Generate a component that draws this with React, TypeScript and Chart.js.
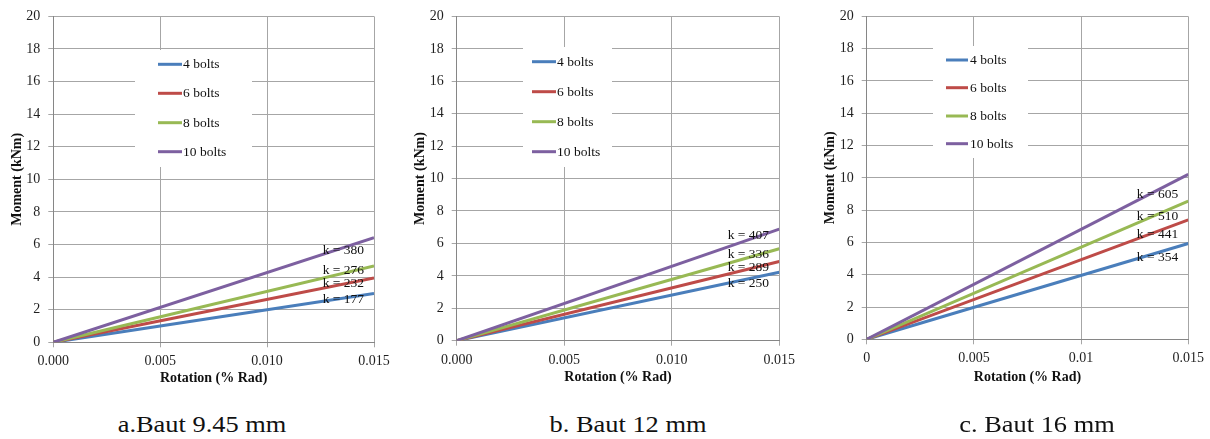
import React, { useEffect, useRef } from "react";
import { Chart, registerables } from "chart.js";

Chart.register(...registerables);

// ---------- data ----------
const seriesLabels = ["4 bolts", "6 bolts", "8 bolts", "10 bolts"];
const seriesColors = ["#4A7EBB", "#BE4B48", "#98B954", "#7D60A0"];
const rotation = [0, 0.015];

// moment (kNm) at rotation 0 and 0.015 for each series
const momentA = [[0, 3.0], [0, 3.95], [0, 4.68], [0, 6.42]];
const momentB = [[0, 4.22], [0, 4.88], [0, 5.67], [0, 6.88]];
const momentC = [[0, 5.93], [0, 7.4], [0, 8.56], [0, 10.21]];

// stiffness labels and where they sit (data units)
const kValuesA = [177, 232, 276, 380];
const kValuesB = [250, 289, 336, 407];
const kValuesC = [354, 441, 510, 605];
const kLabelYA = [2.63, 3.6, 4.42, 5.64];
const kLabelYB = [3.5, 4.49, 5.29, 6.47];
const kLabelYC = [5.05, 6.48, 7.6, 8.97];
const kLabelX = 0.0126;

const xTickValues = [0, 0.005, 0.01, 0.015];
const xTickLabelsAB = ["0.000", "0.005", "0.010", "0.015"];
const xTickLabelsC = ["0", "0.005", "0.01", "0.015"];
const yTickValues = [0, 2, 4, 6, 8, 10, 12, 14, 16, 18, 20];

const captions = ["a.Baut 9.45 mm", "b. Baut 12 mm", "c. Baut 16 mm"];

// ---------- layout ----------
const H = 395;
const FONT = "'Liberation Serif', 'Times New Roman', serif";

const panels = [
  {
    left: 0, width: 400, top: 15, right: 26, yWidth: 53.3, bottom: 342.3,
    yTitlePad: 9, xTitlePad: 8, captionX: 202,
    moment: momentA, kValues: kValuesA, kY: kLabelYA, xLabels: xTickLabelsAB, caption: captions[0],
    legend: { x: 135, y: 50, w: 117, h: 117, l1: 158, l2: 182, tx: 183, rows: [64.3, 93.3, 122.7, 151.7] },
  },
  {
    left: 400, width: 410, top: 14, right: 30.7, yWidth: 56.7, bottom: 340.7,
    yTitlePad: 12, xTitlePad: 9, captionX: 628,
    moment: momentB, kValues: kValuesB, kY: kLabelYB, xLabels: xTickLabelsAB, caption: captions[1],
    legend: { x: 123, y: 47, w: 89, h: 120, l1: 132, l2: 156, tx: 157, rows: [61.7, 91.7, 121.7, 151.7] },
  },
  {
    left: 800, width: 410, top: 12.3, right: 21.7, yWidth: 66.7, bottom: 339.3,
    yTitlePad: 22, xTitlePad: 9.5, captionX: 1037,
    moment: momentC, kValues: kValuesC, kY: kLabelYC, xLabels: xTickLabelsC, caption: captions[2],
    legend: { x: 133, y: 46, w: 95, h: 112, l1: 146, l2: 168, tx: 170, rows: [60, 87.7, 116, 143.7] },
  },
];

function makeLegendPlugin(p: any) {
  return {
    id: "boxLegend",
    afterDraw(chart: any) {
      const ctx = chart.ctx;
      const L = p.legend;
      ctx.save();
      ctx.fillStyle = "#ffffff";
      ctx.fillRect(L.x, L.y, L.w, L.h);
      ctx.font = `13.5px ${FONT}`;
      ctx.textBaseline = "middle";
      ctx.textAlign = "left";
      seriesLabels.forEach((lab, i) => {
        const y = L.rows[i];
        ctx.strokeStyle = seriesColors[i];
        ctx.lineWidth = 3;
        ctx.beginPath();
        ctx.moveTo(L.l1, y);
        ctx.lineTo(L.l2, y);
        ctx.stroke();
        ctx.fillStyle = "#111111";
        ctx.fillText(lab, L.tx, y + 0.5);
      });
      ctx.restore();
    },
  };
}

function makeKPlugin(p: any) {
  return {
    id: "kLabels",
    afterDatasetsDraw(chart: any) {
      const ctx = chart.ctx;
      const xs = chart.scales.x;
      const ys = chart.scales.y;
      ctx.save();
      ctx.font = `13.5px ${FONT}`;
      ctx.textBaseline = "middle";
      ctx.textAlign = "left";
      ctx.fillStyle = "#111111";
      p.kValues.forEach((k: number, i: number) => {
        ctx.fillText(`k = ${k}`, xs.getPixelForValue(kLabelX), ys.getPixelForValue(p.kY[i]));
      });
      ctx.restore();
    },
  };
}

function Panel({ p }: { p: any }) {
  const ref = useRef<HTMLCanvasElement>(null);
  useEffect(() => {
    if (!ref.current) return;
    const datasets = seriesLabels.map((lab, i) => ({
      label: lab,
      data: rotation.map((r, j) => ({ x: r, y: p.moment[i][j] })),
      borderColor: seriesColors[i],
      backgroundColor: seriesColors[i],
      borderWidth: 3,
      pointRadius: 0,
      fill: false,
      tension: 0,
      order: seriesLabels.length - 1 - i,
    }));
    const chart = new Chart(ref.current, {
      type: "line",
      data: { datasets },
      options: {
        animation: false,
        responsive: false,
        maintainAspectRatio: false,
        layout: { padding: { top: p.top, right: p.right, left: 0, bottom: 0 } },
        plugins: { legend: { display: false }, tooltip: { enabled: false } },
        scales: {
          x: {
            type: "linear",
            min: 0,
            max: 0.015,
            afterBuildTicks: (s: any) => {
              s.ticks = xTickValues.map((v) => ({ value: v }));
            },
            afterFit: (s: any) => {
              s.height = H - p.bottom;
            },
            ticks: {
              callback: (_v: any, i: number) => p.xLabels[i],
              font: { family: FONT, size: 14 },
              color: "#1f1f1f",
              padding: 6,
              maxRotation: 0,
              autoSkip: false,
            },
            grid: { color: "#a6a6a6", lineWidth: 1, tickLength: 5, drawTicks: true },
            border: { color: "#868686", width: 1 },
            title: {
              display: true,
              text: "Rotation (% Rad)",
              font: { family: FONT, size: 14, weight: "bold" },
              color: "#111111",
              padding: { top: 0, bottom: p.xTitlePad },
            },
          },
          y: {
            type: "linear",
            min: 0,
            max: 20,
            afterBuildTicks: (s: any) => {
              s.ticks = yTickValues.map((v) => ({ value: v }));
            },
            afterFit: (s: any) => {
              s.width = p.yWidth;
            },
            ticks: {
              font: { family: FONT, size: 14 },
              color: "#1f1f1f",
              padding: 8,
              autoSkip: false,
            },
            grid: { color: "#a6a6a6", lineWidth: 1, tickLength: 5, drawTicks: true },
            border: { color: "#868686", width: 1 },
            title: {
              display: true,
              text: "Moment (kNm)",
              font: { family: FONT, size: 14, weight: "bold" },
              color: "#111111",
              padding: { top: p.yTitlePad, bottom: 0 },
            },
          },
        },
      } as any,
      plugins: [makeKPlugin(p), makeLegendPlugin(p)],
    });
    return () => chart.destroy();
  }, []);
  return (
    <canvas
      ref={ref}
      width={p.width}
      height={H}
      style={{ position: "absolute", left: p.left, top: 0, width: p.width, height: H }}
    />
  );
}

export default function App() {
  return (
    <div
      style={{
        position: "fixed",
        left: 0,
        top: 0,
        width: 1210,
        height: 439,
        background: "#ffffff",
        overflow: "hidden",
      }}
    >
      {panels.map((p, i) => (
        <Panel key={i} p={p} />
      ))}
      {panels.map((p, i) => (
        <div
          key={"c" + i}
          style={{
            position: "absolute",
            left: p.captionX - 150,
            width: 300,
            top: 412,
            textAlign: "center",
            fontFamily: FONT,
            fontSize: 24,
            lineHeight: "24px",
            color: "#111",
            transform: "scaleX(1.1)",
            whiteSpace: "nowrap",
          }}
        >
          {p.caption}
        </div>
      ))}
    </div>
  );
}
